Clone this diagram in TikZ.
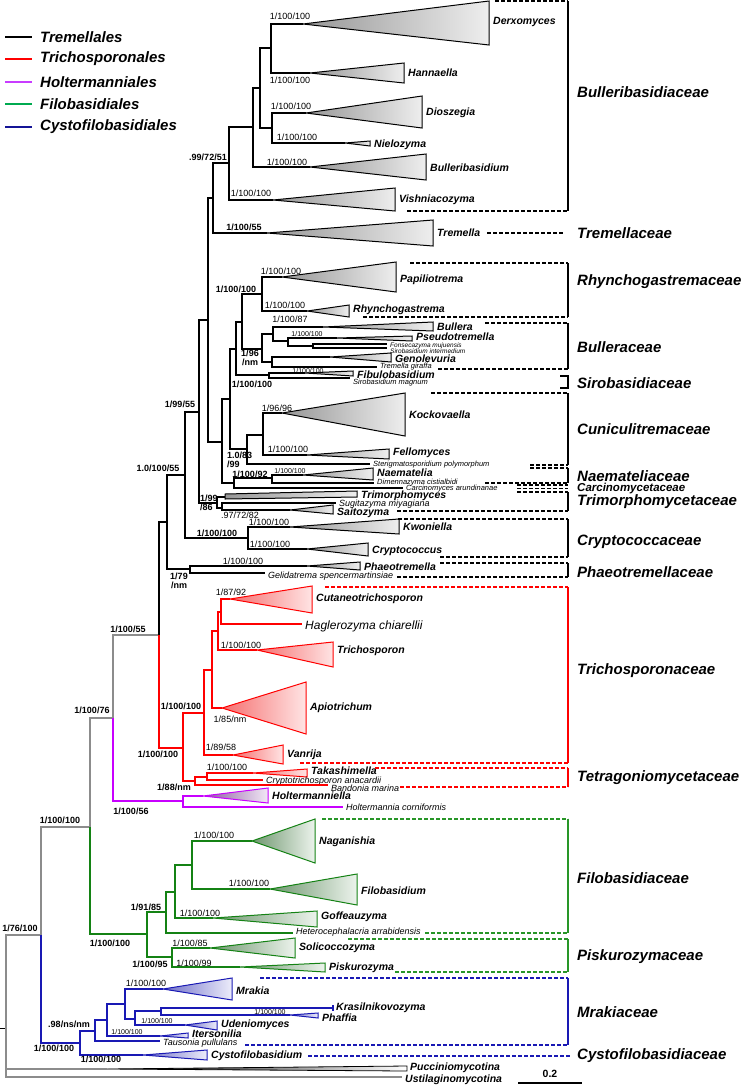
\documentclass[tikz,border=0pt]{standalone}
\usepackage{fontspec}
\setmainfont{Liberation Sans}
\definecolor{bbgray}{RGB}{140,140,140}
\definecolor{trired}{RGB}{255,0,0}
\definecolor{holmag}{RGB}{200,0,255}
\definecolor{filgreen}{RGB}{20,130,20}
\definecolor{famgreen}{RGB}{40,150,40}
\definecolor{cysblue}{RGB}{25,25,180}
\definecolor{legmag}{RGB}{200,60,255}
\definecolor{leggreen}{RGB}{0,170,80}
\definecolor{legblue}{RGB}{20,20,150}
\definecolor{grayL}{RGB}{150,150,150}
\definecolor{grayR}{RGB}{238,238,238}
\definecolor{redL}{RGB}{245,110,110}
\definecolor{redR}{RGB}{255,228,228}
\definecolor{greenL}{RGB}{110,150,110}
\definecolor{greenR}{RGB}{236,243,236}
\definecolor{blueL}{RGB}{110,110,200}
\definecolor{blueR}{RGB}{236,236,250}
\definecolor{magL}{RGB}{140,90,160}
\definecolor{magR}{RGB}{242,232,246}

\begin{document}
\begin{tikzpicture}[x=1pt,y=-1pt]
\tikzstyle{every node}+=[inner sep=0pt]
\tikzstyle{blk}=[black, line width=1.2pt]
\tikzstyle{bb}=[bbgray, line width=2.4pt]
\tikzstyle{rd}=[trired, line width=1.2pt]
\tikzstyle{mg}=[holmag, line width=1.2pt]
\tikzstyle{gr}=[filgreen, line width=1.2pt]
\tikzstyle{bl}=[cysblue, line width=1.2pt]
\tikzstyle{gclade}=[draw=black, line width=1pt, left color=grayL, right color=grayR]
\tikzstyle{rclade}=[draw=trired, line width=1pt, left color=redL, right color=redR]
\tikzstyle{mclade}=[draw=holmag, line width=1pt, left color=magL, right color=magR]
\tikzstyle{fclade}=[draw=filgreen, line width=1pt, left color=greenL, right color=greenR]
\tikzstyle{cclade}=[draw=cysblue, line width=1pt, left color=blueL, right color=blueR]
\tikzstyle{genus}=[anchor=west, font=\fontsize{10.5}{12}\selectfont\bfseries\itshape]
\tikzstyle{species}=[anchor=west, font=\fontsize{9}{10}\selectfont\itshape]
\tikzstyle{spmid}=[anchor=west, font=\fontsize{7.5}{9}\selectfont\itshape]
\tikzstyle{spsmall}=[anchor=west, font=\fontsize{6.5}{7}\selectfont\itshape]
\tikzstyle{spbig}=[anchor=west, font=\fontsize{12}{14}\selectfont\itshape]
\tikzstyle{fam}=[anchor=west, font=\fontsize{15}{18}\selectfont\bfseries\itshape]
\tikzstyle{sup}=[font=\fontsize{9}{10}\selectfont]
\tikzstyle{supb}=[font=\fontsize{9}{8.5}\selectfont\bfseries]
\tikzstyle{supt}=[font=\fontsize{7}{8}\selectfont]
\tikzstyle{famdash}=[line width=1.2pt, dash pattern=on 4pt off 2pt]
\tikzstyle{famline}=[line width=1.2pt]
\useasboundingbox (0,0) rectangle (744,1088);

\foreach \n/\ax/\ay/\bx/\tp/\bt/\ly/\lab in {derx/303/24/489/1/45/22/Derxomyces, hann/310/73/404/63/83/73/Hannaella,
  dios/306/113/422/96/128/113/Dioszegia, niel/345/143/370/141/146/145/Nielozyma,
  bulb/310/167/426/154/180/168/Bulleribasidium, vish/273/200/395/188/211/200/Vishniacozyma,
  trem/267/233/433/220/246/233/Tremella, papi/282/277/396/262/292/280/Papiliotrema,
  rhyn/307/311/349/305/317/310/Rhynchogastrema, bull/323/327/433/322/331/327/Bullera,
  pseu/337/338/412/336/341/337/Pseudotremella, geno/330/357/391/353/362/359/Genolevuria,
  fibu/305/373/353/371/376/375/Fibulobasidium, kock/282/413/405/393/436/415/Kockovaella,
  fell/307/455/389/449/459/453/Fellomyces, naem/303/475/373/468/480/473/Naematelia,
  sait/290/510/333/505/514/513/Saitozyma, kwon/290/527/399/519/534/527/Kwoniella,
  cryp/307/549/368/543/556/551/Cryptococcus, phae/307/566/360/562/570/566.5/Phaeotremella}
{
  \coordinate (\n) at (\ax,\ay);
  \draw[gclade] (\n) -- (\bx,\tp) -- (\bx,\bt) -- cycle;
  \node[genus] (\n-l) at (\bx+4,\ly) {\lab};
}
\coordinate (trmo) at (225,497);
\draw[gclade] (225,494) -- (357,491) -- (357,497) -- (225,499) -- cycle;
\node[genus] (trmo-l) at (361,496) {Trimorphomyces};

\foreach \n/\ax/\ay/\bx/\tp/\bt/\ly/\lab in {cuta/230/599/312/586/613/599/Cutaneotrichosporon,
  tris/257/650/333/642/667/651/Trichosporon, apio/222/708/306/682/734/708/Apiotrichum,
  vanr/233/755/283/745/764/755/Vanrija, taka/253/773/307/769/777/771/Takashimella}
{
  \coordinate (\n) at (\ax,\ay);
  \draw[rclade] (\n) -- (\bx,\tp) -- (\bx,\bt) -- cycle;
  \node[genus] (\n-l) at (\bx+4,\ly) {\lab};
}
\coordinate (holt) at (203,796);
\draw[mclade] (holt) -- (268,788) -- (268,803) -- cycle;
\node[genus] (holt-l) at (272,796) {Holtermanniella};

\foreach \n/\ax/\ay/\bx/\tp/\bt/\ly/\lab in {naga/252/841/315/819/863/842/Naganishia,
  filo/270/889/357/874/905/891/Filobasidium, goff/213/918/317/911/927/917/Goffeauzyma,
  soli/210/948/295/938/958/948/Solicoccozyma, pisk/240/967/325/963/972/968/Piskurozyma}
{
  \coordinate (\n) at (\ax,\ay);
  \draw[fclade] (\n) -- (\bx,\tp) -- (\bx,\bt) -- cycle;
  \node[genus] (\n-l) at (\bx+4,\ly) {\lab};
}
\foreach \n/\ax/\ay/\bx/\tp/\bt/\ly/\lab in {mrak/163/989/232/978/1000/991/Mrakia,
  uden/185/1025/217/1021/1030/1025/Udeniomyces, iter/160/1036/188/1033/1038/1034/Itersonilia,
  phaf/290/1015/318/1013/1018/1018/Phaffia, cyst/143/1055/207/1050/1060/1056/Cystofilobasidium}
{
  \coordinate (\n) at (\ax,\ay);
  \draw[cclade] (\n) -- (\bx,\tp) -- (\bx,\bt) -- cycle;
  \node[genus] (\n-l) at (\bx+4,\ly) {\lab};
}
\coordinate (puc) at (107,1069);
\draw[black, line width=0.8pt, left color=black, right color=white] (puc) -- (407,1066) -- (407,1071) -- cycle;
\node[genus] (puc-l) at (410,1068) {Pucciniomycotina};

\foreach \n/\x/\y/\ly/\st/\lab in {fons/387/344/345.5/spsmall/Fonsecazyma  mujuensis,
  siri/387/348/351/spsmall/Sirobasidium intermedium, tgir/377/367/367/spmid/Tremella giraffa,
  simg/350/378/383/spmid/Sirobasidium magnum, ster/370/464/465/spmid/Sterigmatosporidium polymorphum,
  dime/374/483/483/spmid/Dimennazyma cistialbidi, carc/403/488/489/spmid/Carcinomyces arundinanae,
  sugi/336/503/504/species/Sugitazyma miyagiana, geli/265/573/576/species/Gelidatrema spencermartinsiae,
  hagl/302/624/626/spbig/Haglerozyma chiarellii, cryt/263/780/781/species/Cryptotrichosporon anacardii,
  band/328/785/788/species/Bandonia marina, hcor/343/807/807/species/Holtermannia corniformis,
  hete/293/933/932/species/Heterocephalacria arrabidensis, taus/160/1041/1043/species/Tausonia pullulans,
  kras/333/1008/1008/genus/Krasilnikovozyma, ust/402/1077/1080/genus/Ustilaginomycotina}
{
  \coordinate (\n) at (\x,\y);
  \node[\st] (\n-l) at (\x+3,\ly) {\lab};
}
\draw[bl] (333,1005) -- (kras) -- (333,1011);

\foreach \n/\x/\y in {root/6/1028, n4/41/935, n3/90/827, n2/113/718, n1/159/635,
  t1/167/522, t2/185/475, t3/199/412, t4/208/320, bul3/213/198, bul2/229/163, bul1/253/127,
  bul0/260/88, dh/271/48, dn/272/128, t5/222/442, t6/230/399, t7/236/349, t8/242/322,
  rhy/262/294, bulc/262/349, bula/273/334, pse/288/341, fon/313/346, gen/272/362,
  siro/269/375, cun/247/449, koc/263/435, carn/234/483, nae/272/478, trimn/217/503,
  sai/222/508, cryn/248/538, phn/190/569,
  r1/183/748, r2/204/713, r3/212/670, r4/218/631, ch/221/612, tet/195/781, tak/207/777,
  h0/183/801, f0/147/934, fa/166/912, fb/175/892, fc/192/865, pis/172/957,
  c0/80/1043, m1/95/1031, m2/107/1020, m3/125/1004, m4/135/1019, m5/161/1011}
  \coordinate (\n) at (\x,\y);

\coordinate (stub) at (0,1028);
\draw[black, line width=1pt] (stub) -- (root);
\foreach \a/\b in {root/n4, n4/n3, n3/n2, n2/n1, root/puc, root/ust}
  \draw[bb] (\a) |- (\b);
\draw[black, line width=2pt] (n1) |- (t1);
\foreach \a/\b in {t1/t2, t1/phn, t2/t3, t2/cryn, t3/t4, t3/trimn, t4/bul3, t4/t5,
  bul3/bul2, bul3/trem, bul2/bul1, bul2/vish, bul1/bul0, bul1/bulb, bul0/dh, bul0/dn,
  dh/derx, dh/hann, dn/dios, dn/niel, t5/t6, t5/carn, t6/t7, t6/cun, t7/t8, t7/siro,
  t8/rhy, t8/bulc, rhy/papi, rhy/rhyn, bulc/bula, bulc/gen, bula/bull, bula/pse,
  pse/pseu, pse/fon, fon/fons, fon/siri, gen/geno, gen/tgir, siro/fibu, siro/simg,
  cun/koc, cun/ster, koc/kock, koc/fell, carn/nae, carn/carc, nae/naem, nae/dime,
  trimn/trmo, trimn/sai, sai/sugi, sai/sait, cryn/kwon, cryn/cryp, phn/phae, phn/geli}
  \draw[blk] (\a) |- (\b);
\draw[rd, line width=1.6pt] (n1) |- (r1);
\foreach \a/\b in {r1/r2, r1/tet, r2/r3, r2/vanr, r3/r4, r3/apio, r4/ch, r4/tris,
  ch/cuta, ch/hagl, tet/tak, tet/band, tak/taka, tak/cryt}
  \draw[rd] (\a) |- (\b);
\draw[mg, line width=1.6pt] (n2) |- (h0);
\draw[mg] (h0) |- (holt);
\draw[mg] (h0) |- (hcor);
\draw[gr, line width=2.2pt] (n3) |- (f0);
\foreach \a/\b in {f0/fa, f0/pis, fa/fb, fa/hete, fb/fc, fb/goff, fc/naga, fc/filo,
  pis/soli, pis/pisk}
  \draw[gr] (\a) |- (\b);
\draw[bl, line width=1.6pt] (n4) |- (c0);
\foreach \a/\b in {c0/m1, c0/cyst, m1/m2, m1/taus, m2/m3, m2/iter, m3/mrak, m3/m4,
  m4/m5, m4/uden, m5/kras, m5/phaf}
  \draw[bl] (\a) |- (\b);

\foreach \x/\y/\t [count=\i] in {290/16/{1/100/100}, 290/80/{1/100/100}, 291/106/{1/100/100},
  297/137/{1/100/100}, 287/162/{1/100/100}, 251/193/{1/100/100}, 281/271/{1/100/100},
  285/305/{1/100/100}, 290/319/{1/100/87}, 277/408/{1/96/96}, 288/449/{1/100/100},
  240/515/{.97/72/82}, 269/522/{1/100/100}, 270/544/{1/100/100}, 243/561/{1/100/100},
  231/592/{1/87/92}, 241/645/{1/100/100}, 230/719/{1/85/nm}, 221/747/{1/89/58},
  227/767/{1/100/100}, 214/835/{1/100/100}, 249/883/{1/100/100}, 200/913/{1/100/100},
  190/943/{1/100/85}, 194/963/{1/100/99}, 146/983/{1/100/100}}
  \node[sup] (sr\i) at (\x,\y) {\t};
\foreach \x/\y/\t [count=\i] in {208/157/{.99/72/51}, 244/227/{1/100/55}, 236/289/{1/100/100},
  252/384/{1/100/100}, 180/404/{1/99/55}, 158/468/{1.0/100/55}, 250/474/{1/100/92},
  217/533/{1/100/100}, 128/629/{1/100/55}, 92/710/{1/100/76}, 158/754/{1/100/100},
  181/706/{1/100/100}, 174/787/{1/88/nm}, 131/811/{1/100/56}, 60/820/{1/100/100},
  20/928/{1/76/100}, 146/907/{1/91/85}, 110/943/{1/100/100}, 150/964/{1/100/95},
  69/1024/{.98/ns/nm}, 54/1048/{1/100/100}, 101/1059/{1/100/100}}
  \node[supb] (sb\i) at (\x,\y) {\t};
\node[supb, align=center] (sb23) at (250,358) {1/96\\/nm};
\node[supb, align=left, anchor=west] (sb24) at (227,460) {1.0/83\\/99};
\node[supb, align=left, anchor=west] (sb25) at (200,503) {1/99\\/86};
\node[supb, align=center] (sb26) at (179,581) {1/79\\/nm};
\foreach \x/\y/\t [count=\i] in {307/334/{1/100/100}, 308/371/{1/100/100}, 290/471/{1/100/100},
  157/1021/{1/100/100}, 127/1032/{1/100/100}, 270/1012/{1/100/100}}
  \node[supt] (st\i) at (\x,\y) {\t};

\foreach \xa/\ty/\xb/\by/\col in {495/1/407/211/black, 410/263/363/317/black, 485/323/438/369/black,
  431/393/530/465/black, 530/468/485/483/black, 517/492/397/511/black, 398/519/440/557/black,
  440/563/397/577/black, 325/587/300/763/trired, 375/768/400/787/trired,
  322/819/425/933/famgreen, 348/939/395/972/famgreen, 260/978/245/1045/cysblue}
{
  \draw[famdash, \col] (\xa,\ty) -- (568,\ty);
  \draw[famline, \col] (568,\ty) -- (568,\by);
  \draw[famdash, \col] (\xb,\by) -- (568,\by);
}
\draw[famdash] (487,233) -- (564,233);
\draw[famline] (560,376) -- (568,376) -- (568,388) -- (560,388);
\draw[famdash] (517,485) -- (568,485);
\draw[famdash] (517,488.5) -- (568,488.5);
\draw[famdash, cysblue] (308,1056) -- (570,1056);

\foreach \y/\t [count=\i] in {92/Bulleribasidiaceae, 233/Tremellaceae, 282/Rhynchogastremaceae,
  347/Bulleraceae, 383/Sirobasidiaceae, 429/Cuniculitremaceae, 476/Naemateliaceae,
  502/Trimorphomycetaceae, 542/Cryptococcaceae, 572/Phaeotremellaceae, 671/Trichosporonaceae,
  778/Tetragoniomycetaceae, 878/Filobasidiaceae, 957/Piskurozymaceae, 1012/Mrakiaceae,
  1056/Cystofilobasidiaceae}
  \node[fam] (fam\i) at (577,\y) {\t};
\node[fam, font=\fontsize{11.5}{13}\selectfont\bfseries\itshape] (famc) at (577,489) {Carcinomycetaceae};

\foreach \y/\col/\t [count=\i] in {37/black/Tremellales, 59/trired/Trichosporonales,
  82/legmag/Holtermanniales, 104/leggreen/Filobasidiales, 127/legblue/Cystofilobasidiales}
{
  \draw[\col, line width=2.4pt] (5,\y) -- (32,\y);
  \node[fam] (leg\i) at (40,\y) {\t};
}

\coordinate (sc1) at (518,1083);
\coordinate (sc2) at (582,1083);
\draw[black, line width=1.2pt] (sc1) -- (sc2);
\node[supb, font=\fontsize{10.5}{12}\selectfont\bfseries] (scl) at (550,1074) {0.2};
\end{tikzpicture}
\end{document}
